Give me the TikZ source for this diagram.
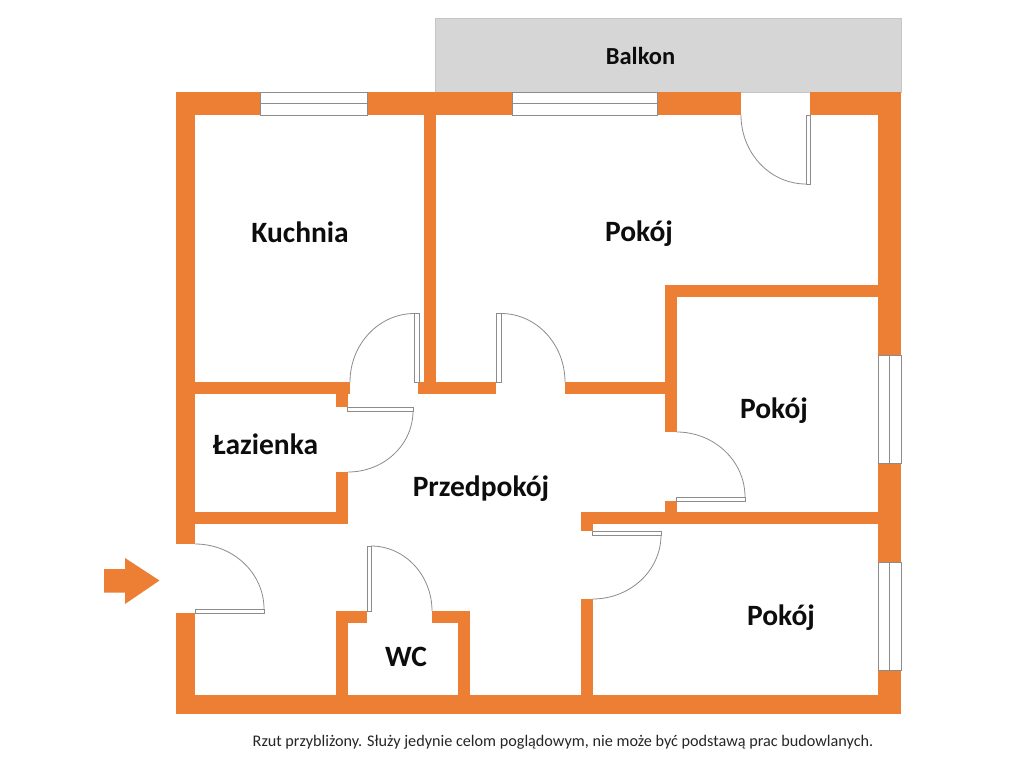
\documentclass[tikz,border=0pt]{standalone}
\usepackage{fontspec}
\setmainfont{Carlito}
\usepackage{tikz}
\usetikzlibrary{calc}
\definecolor{wallorange}{HTML}{ED7F35}
\definecolor{balcgray}{HTML}{D6D6D6}
\definecolor{linegray}{HTML}{8C8C8C}
\tikzstyle{wall} = [fill=wallorange]
\tikzstyle{balcony} = [fill=balcgray, draw=balcgray!92!black, line width=0.6pt]
\tikzstyle{frame} = [draw=linegray, fill=white, line width=1pt]
\tikzstyle{swing} = [draw=linegray, line width=0.8pt]
\tikzstyle{roomname} = [font=\bfseries\fontsize{29.5}{30}\selectfont, anchor=base, inner sep=0pt, text=black!95]
\newcommand{\swingarc}[4]{\draw[swing] (#1,#2) .. controls ($(#1,#2)!0.5523!(#3,#2)$) and ($(#3,#4)!0.5523!(#3,#2)$) .. (#3,#4);}
\newcommand{\winh}[2]{\draw[frame] (#1,92.5) rectangle (#2,115); \draw[frame] (#1,103.5) -- (#2,103.5);}
\newcommand{\winv}[2]{\draw[frame] (878,#1) rectangle (901,#2); \draw[frame] (889.5,#1) -- (889.5,#2);}

\begin{document}
\begin{tikzpicture}[x=1pt, y=-1pt]
    \useasboundingbox (0,0) rectangle (1024,768);
    \fill[white] (0,0) rectangle (1024,768);

    \draw[balcony] (435.5,18.5) rectangle (901,92);

    % walls
    \foreach \xa/\ya/\xb/\yb in {
        176/92/260/115, 367/92/512/115, 657/92/741/115, 809.5/92/901/115,
        176/92/195/544, 176/613/195/714, 176/695/901/714,
        424/92/436/394, 878/92/901/355, 878/463/901/562, 878/670/901/714,
        195/382/350/394, 336/382/348/407, 418/382/496/394, 565/382/677/394,
        665/285/878/297, 665/285/677/432, 665/501/677/524,
        195/512/348/524, 336/472/348/524,
        581/512/878/524, 581/512/593/531, 581/599/593/714,
        336/611/348/714, 458/611/470/714, 336/611/367/623, 432/611/470/623} {
        \fill[wall] (\xa,\ya) rectangle (\xb,\yb);
    }

    % windows
    \winh{260}{367}
    \winh{512}{657}
    \winv{355}{463}
    \winv{562}{670}

    % door leaves
    \foreach \xa/\ya/\xb/\yb in {
        806/115/810/184, 414.5/313.5/419/382, 496.5/313.5/501/382,
        347.5/407/413/411, 676.5/497/745/501, 592.5/531/661/535,
        195/609/264/613, 367/546/371/611} {
        \draw[frame] (\xa,\ya) rectangle (\xb,\yb);
    }
    \swingarc{806}{184}{741}{115}
    \swingarc{414.5}{313.5}{350}{382}
    \swingarc{501}{313.5}{565}{382}
    \swingarc{348}{472}{413}{411}
    \swingarc{676.5}{432}{745}{497}
    \swingarc{592.5}{599}{661}{535}
    \swingarc{195}{544}{264}{609}
    \swingarc{371}{546}{432}{611}

    % entrance
    \fill[wall] (104,569) -- (125,569) -- (125,558) -- (159.5,580.5) -- (125,604) -- (125,592.5) -- (104,592.5) -- cycle;

    \node[roomname, font=\bfseries\fontsize{24.5}{25}\selectfont] (balkon) at (640.5,64) {Balkon};
    \node[roomname] (kuchnia) at (300,242) {Kuchnia};
    \node[roomname] (duzy) at (639,241) {Pokój};
    \node[roomname] (srodkowy) at (774,418) {Pokój};
    \node[roomname] (lazienka) at (265.5,454) {Łazienka};
    \node[roomname] (przedpokoj) at (481,496) {Przedpokój};
    \node[roomname] (dolny) at (781,625) {Pokój};
    \node[roomname] (wc) at (406,666) {WC};
    \node[anchor=base, inner sep=0pt, font=\fontsize{16.2}{17}\selectfont, text=black!85] (uwaga) at (563,746)
        {Rzut przybliżony. Służy jedynie celom poglądowym, nie może być podstawą prac budowlanych.};
\end{tikzpicture}
\end{document}
